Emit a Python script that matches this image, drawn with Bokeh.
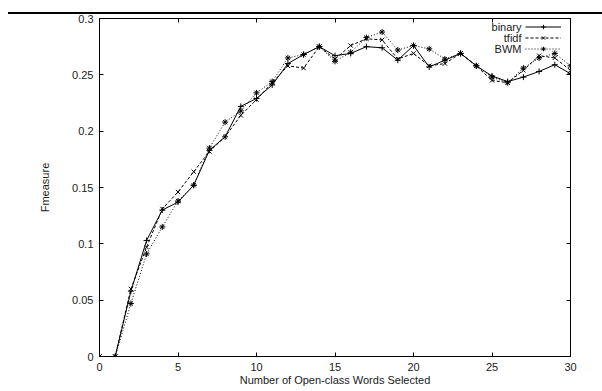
from bokeh.plotting import figure
from bokeh.models import (Range1d, FixedTicker, LinearAxis, Legend, LegendItem,
                          Spacer, Label)
from bokeh.layouts import column, row
from bokeh.embed import file_html
from bokeh.resources import INLINE

# ---- data ----
words = list(range(0, 31))
binary = [0, 0, 0.058, 0.103, 0.130, 0.137, 0.152, 0.183, 0.195, 0.222, 0.229,
          0.241, 0.260, 0.268, 0.275, 0.267, 0.269, 0.275, 0.274, 0.263, 0.276,
          0.257, 0.263, 0.269, 0.258, 0.249, 0.244, 0.248, 0.253, 0.259, 0.251]
tfidf = [0, 0, 0.060, 0.097, 0.131, 0.146, 0.164, 0.182, 0.195, 0.214, 0.228,
         0.243, 0.258, 0.256, 0.275, 0.264, 0.276, 0.282, 0.281, 0.264, 0.269,
         0.258, 0.260, 0.269, 0.258, 0.245, 0.243, 0.254, 0.267, 0.265, 0.254]
bwm = [0, 0, 0.047, 0.091, 0.115, 0.138, 0.152, 0.185, 0.208, 0.218, 0.234,
       0.244, 0.265, 0.268, 0.275, 0.262, 0.270, 0.283, 0.288, 0.272, 0.276,
       0.273, 0.264, 0.269, 0.258, 0.248, 0.243, 0.256, 0.265, 0.269, 0.258]
x_ticks = [0, 5, 10, 15, 20, 25, 30]
y_ticks = [0, 0.05, 0.1, 0.15, 0.2, 0.25, 0.3]
y_tick_labels = ["0", "0.05", "0.1", "0.15", "0.2", "0.25", "0.3"]
series_names = ["binary", "tfidf", "BWM"]

FONT = "Liberation Sans"
FS = "11px"
TXT = "#1a1a1a"

p = figure(width=602, height=376, output_backend="svg", toolbar_location=None,
           x_range=Range1d(0, 30), y_range=Range1d(0, 0.3),
           min_border_left=99, min_border_right=32, min_border_top=4,
           min_border_bottom=34)
p.background_fill_color = "white"
p.border_fill_color = "white"
p.outline_line_color = "black"
p.outline_line_width = 1
p.grid.visible = False

for ax, ticks in ((p.xaxis[0], x_ticks), (p.yaxis[0], y_ticks)):
    ax.ticker = FixedTicker(ticks=ticks)
    ax.major_tick_in = 4
    ax.major_tick_out = 0
    ax.minor_tick_line_color = None
    ax.axis_line_color = "black"
    ax.major_tick_line_color = "black"
    ax.major_label_text_font = FONT
    ax.major_label_text_font_size = FS
    ax.major_label_text_color = TXT
    ax.axis_label_text_font = FONT
    ax.axis_label_text_font_size = FS
    ax.axis_label_text_font_style = "normal"
    ax.axis_label_text_color = TXT

p.xaxis[0].major_label_standoff = 6
p.xaxis[0].axis_label_standoff = 0
p.xaxis[0].axis_label = "Number of Open-class Words Selected"
p.yaxis[0].major_label_standoff = 6
p.yaxis[0].axis_label_standoff = 18
p.yaxis[0].axis_label = "Fmeasure"
p.yaxis[0].major_label_overrides = {t: l for t, l in zip(y_ticks, y_tick_labels)}

# mirror ticks on top and right (no labels)
top = LinearAxis(ticker=FixedTicker(ticks=x_ticks), major_tick_in=4, major_tick_out=0,
                 minor_tick_line_color=None, major_label_text_font_size="1px",
                 major_label_text_color=None, major_label_standoff=0,
                 axis_line_color="black")
right = LinearAxis(ticker=FixedTicker(ticks=y_ticks), major_tick_in=4, major_tick_out=0,
                   minor_tick_line_color=None, major_label_text_font_size="1px",
                   major_label_text_color=None, major_label_standoff=0,
                   axis_line_color="black")
p.add_layout(top, "above")
p.add_layout(right, "right")

styles = [
    dict(y=binary, dash="solid", marker="cross"),
    dict(y=tfidf, dash="3 2", marker="x"),
    dict(y=bwm, dash="1 2", marker="asterisk"),
]
glyph_items = []
for name, st in zip(series_names, styles):
    ln = p.line(words, st["y"], line_color="black", line_width=1, line_dash=st["dash"])
    sc = p.scatter(words, st["y"], marker=st["marker"], size=6, line_color="black",
                   line_width=1)
    glyph_items.append(LegendItem(label=name, renderers=[ln, sc]))

# legend: key samples (label text hidden), names drawn right-aligned to their left
legend_glyph = Legend(items=glyph_items, location=(426, 302), glyph_width=36,
                      glyph_height=11, label_height=11, label_width=1,
                      label_standoff=0, spacing=0, padding=0, margin=0,
                      orientation="vertical", border_line_color=None,
                      background_fill_alpha=0, label_text_font=FONT,
                      label_text_font_size="1px", label_text_color=None)
p.add_layout(legend_glyph)

ROW0, ROW_STEP = 329.5, 11
for i, name in enumerate(series_names):
    p.add_layout(Label(x=422, y=ROW0 - i * ROW_STEP, x_units="screen", y_units="screen",
                       text=name, text_align="right", text_baseline="middle",
                       text_font=FONT, text_font_size=FS, text_color=TXT))

bar = Spacer(width=594, height=2, styles={"background-color": "black"})
layout = column(Spacer(width=602, height=12),
                row(Spacer(width=8, height=2), bar, spacing=0),
                p, spacing=0)

open("out.html", "w").write(file_html(layout, INLINE))
